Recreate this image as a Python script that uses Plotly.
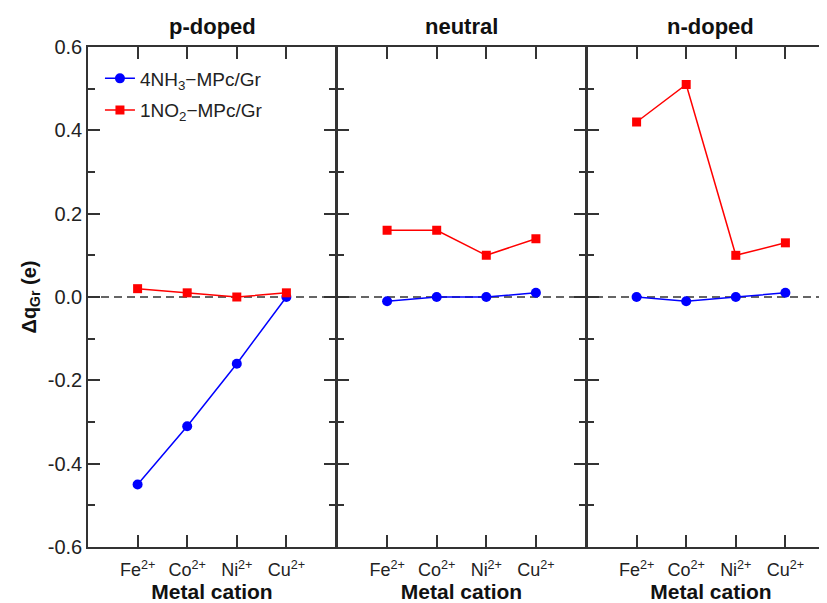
import plotly.graph_objects as go
from plotly.subplots import make_subplots

cations = ["Fe<sup>2+</sup>", "Co<sup>2+</sup>", "Ni<sup>2+</sup>", "Cu<sup>2+</sup>"]
xpos = [1, 2, 3, 4]
panels = ["p-doped", "neutral", "n-doped"]

nh3_p = [-0.45, -0.31, -0.16, 0.0]
no2_p = [0.02, 0.01, 0.0, 0.01]
nh3_neu = [-0.01, 0.0, 0.0, 0.01]
no2_neu = [0.16, 0.16, 0.10, 0.14]
nh3_n = [0.0, -0.01, 0.0, 0.01]
no2_n = [0.42, 0.51, 0.10, 0.13]

nh3_sets = [nh3_p, nh3_neu, nh3_n]
no2_sets = [no2_p, no2_neu, no2_n]

yticks = [-0.6, -0.4, -0.2, 0.0, 0.2, 0.4, 0.6]
yticklabels = ["-0.6", "-0.4", "-0.2", "0.0", "0.2", "0.4", "0.6"]

FONT = "Liberation Sans, Arial, Helvetica, sans-serif"
LC = "#333333"
LW = 1.5

W, H = 840, 603
ML, MR, MT, MB = 80, 11, 39, 64
plot_w = W - ML - MR
g = LW / plot_w
pw = (1 - 2 * g) / 3
domains = [[0, pw], [pw + g, 2 * pw + g], [2 * pw + 2 * g, 1]]

fig = make_subplots(rows=1, cols=3, shared_yaxes=True, horizontal_spacing=0,
                    subplot_titles=["<b>%s</b>" % p for p in panels])

for i in range(3):
    fig.add_trace(go.Scatter(x=xpos, y=nh3_sets[i], mode="lines+markers",
                             name="4NH<sub>3</sub>−MPc/Gr", legendgroup="nh3",
                             line=dict(color="#0000ff", width=1.5),
                             marker=dict(symbol="circle", size=10, color="#0000ff"),
                             showlegend=(i == 0)), row=1, col=i + 1)
    fig.add_trace(go.Scatter(x=xpos, y=no2_sets[i], mode="lines+markers",
                             name="1NO<sub>2</sub>−MPc/Gr", legendgroup="no2",
                             line=dict(color="#ff0000", width=1.5),
                             marker=dict(symbol="square", size=9, color="#ff0000"),
                             showlegend=(i == 0)), row=1, col=i + 1)

for i in range(3):
    fig.update_xaxes(domain=domains[i], range=[0, 5], tickvals=xpos, ticktext=cations,
                     ticks="inside", ticklen=12, tickwidth=LW, tickcolor=LC,
                     showline=True, linecolor=LC, linewidth=LW, mirror="allticks",
                     showgrid=False, zeroline=False, ticklabelstandoff=6,
                     tickfont=dict(size=18, color="#222", family=FONT),
                     title=dict(text="<b>Metal cation</b>", font=dict(size=21, color="#111", family=FONT), standoff=0),
                     row=1, col=i + 1)
    fig.update_yaxes(range=[-0.6, 0.6], tickvals=yticks, ticktext=yticklabels,
                     ticks="inside", ticklen=12, tickwidth=LW, tickcolor=LC,
                     minor=dict(dtick=0.1, tick0=0, ticks="inside", ticklen=7, tickwidth=LW, tickcolor=LC),
                     showline=True, linecolor=LC, linewidth=LW, mirror="allticks",
                     showgrid=False, zeroline=False,
                     tickfont=dict(size=20, color="#222", family=FONT),
                     row=1, col=i + 1)

fig.update_yaxes(title=dict(text="<b>Δq<sub>Gr</sub> (e)</b>", font=dict(size=20, color="#111", family=FONT), standoff=6),
                 row=1, col=1)

fig.add_shape(type="line", xref="paper", yref="y", x0=0, x1=1, y0=0, y1=0,
              line=dict(color=LC, width=1.5, dash="8px,5px"), layer="below")

for ann in fig.layout.annotations:
    ann.font = dict(size=22, color="#111", family=FONT)
    ann.yshift = 6

fig.update_layout(
    width=W, height=H,
    margin=dict(l=ML, r=MR, t=MT, b=MB),
    paper_bgcolor="white", plot_bgcolor="white",
    font=dict(family=FONT, color="#222"),
    legend=dict(x=0.016, y=0.975, xanchor="left", yanchor="top",
                bgcolor="rgba(0,0,0,0)", font=dict(size=19, color="#222", family=FONT),
                tracegroupgap=4),
)

fig.write_html("out.html")
